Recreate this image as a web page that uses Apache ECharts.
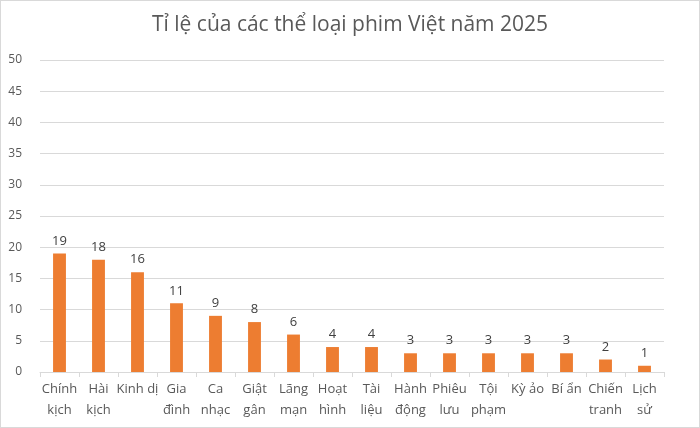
<!DOCTYPE html>
<html lang="vi">
<head>
    <meta charset="UTF-8">
    <script src="https://cdn.jsdelivr.net/npm/echarts@6/dist/echarts.min.js"></script>
    <title>Tỉ lệ của các thể loại phim Việt năm 2025</title>
    <style>
        html, body { margin: 0; padding: 0; background: #fff; }
        #chart { width: 698px; height: 426px; border: 1px solid #d9d9d9; }
    </style>
</head>
<body>
<div id="chart"></div>
<script>
    // the genres, two-line labels as in the original
    let genres = ['Chính\nkịch', 'Hài\nkịch', 'Kinh dị', 'Gia\nđình', 'Ca\nnhạc', 'Giật\ngân',
        'Lãng\nmạn', 'Hoạt\nhình', 'Tài\nliệu', 'Hành\nđộng', 'Phiêu\nlưu', 'Tội\nphạm',
        'Kỳ ảo', 'Bí ẩn', 'Chiến\ntranh', 'Lịch\nsử']
    let counts = [19, 18, 16, 11, 9, 8, 6, 4, 4, 3, 3, 3, 3, 3, 2, 1]
    let yTicks = [0, 5, 10, 15, 20, 25, 30, 35, 40, 45, 50]

    var chart = echarts.init(document.getElementById('chart'))
    chart.setOption({
        animation: false,
        textStyle: { fontFamily: 'Open Sans, Noto Sans, sans-serif' },
        title: {
            text: 'Tỉ lệ của các thể loại phim Việt năm 2025',
            left: 'center',
            top: 9,
            textStyle: { fontSize: 21, fontWeight: 'normal', color: '#595959' }
        },
        grid: { left: 39, right: 35, top: 59, bottom: 55 },
        xAxis: {
            type: 'category',
            data: genres,
            axisLine: { lineStyle: { color: '#d9d9d9' } },
            axisTick: { show: true, length: 5, lineStyle: { color: '#d9d9d9' } },
            axisLabel: { interval: 0, color: '#595959', fontSize: 13, lineHeight: 21, margin: 7 }
        },
        yAxis: {
            type: 'value',
            min: yTicks[0],
            max: yTicks[yTicks.length - 1],
            interval: 5,
            axisLine: { show: false },
            axisTick: { show: false },
            splitLine: { lineStyle: { color: '#d9d9d9' } },
            axisLabel: { color: '#595959', fontSize: 12, margin: 18 }
        },
        series: [{
            type: 'bar',
            data: counts,
            barWidth: '33%',
            itemStyle: { color: '#ed7d31' },
            label: { show: true, position: 'top', color: '#404040', fontSize: 13, distance: 6 }
        }]
    })
</script>
</body>
</html>
